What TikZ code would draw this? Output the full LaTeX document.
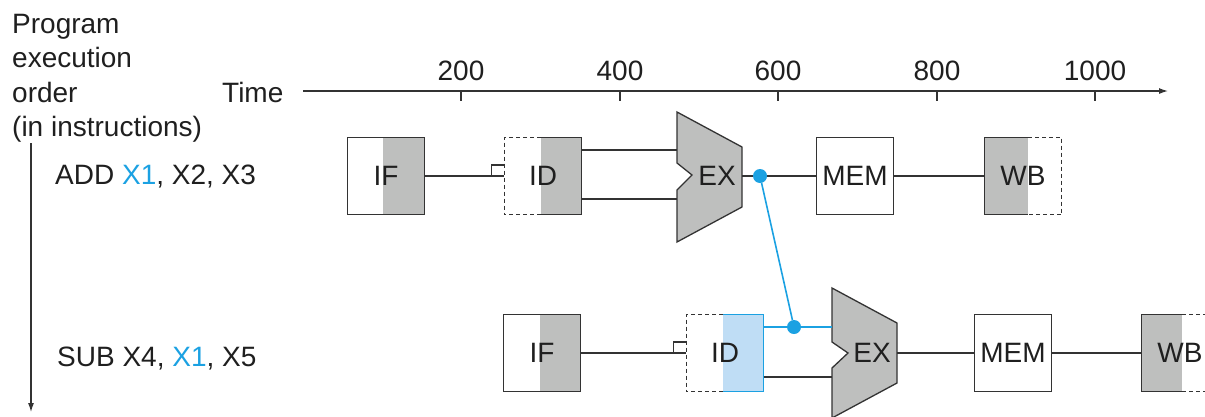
\documentclass[tikz,border=0pt]{standalone}
\usepackage{fontspec}
\setmainfont{Liberation Sans}
\usetikzlibrary{calc,backgrounds,arrows.meta}
\definecolor{hblue}{HTML}{1BA1E2}
\definecolor{lblue}{HTML}{BFDDF5}
\definecolor{sgray}{HTML}{BEBFBE}
\definecolor{ink}{HTML}{333333}
\begin{document}
\begin{tikzpicture}[x=1pt,y=-1pt,
  font=\fontsize{28}{34}\selectfont,
  stage/.style={minimum width=77pt,minimum height=77pt,inner sep=0pt,text=black!88},
  fullstage/.style={stage,draw=ink,line width=1.3pt},
  line/.style={draw=ink,line width=1.2pt},
  border/.style={draw=ink,line width=1.3pt},
  dashborder/.style={draw=ink,line width=1.1pt,dash pattern=on 4pt off 3pt},
  lbl/.style={inner sep=0pt,anchor=base west,text=black!88},
  dot/.style={circle,fill=hblue,inner sep=0pt,minimum size=14pt},
  tip/.style={-{Latex[length=9pt,width=6pt]}}
]
\useasboundingbox (0,0) rectangle (1205,416);
\clip (0,0) rectangle (1205,416);

% left labels
\node[lbl] (t1) at (12,33) {Program};
\node[lbl] (t2) at (12,67) {execution};
\node[lbl] (t3) at (12,102) {order};
\node[lbl] (t4) at (12,136) {(in instructions)};
\node[lbl] (time) at (222,102) {Time};
\node[lbl] (add) at (55,184) {ADD \textcolor{hblue}{X1}, X2, X3};
\node[lbl] (sub) at (57,366) {SUB X4, \textcolor{hblue}{X1}, X5};

% program order arrow
\coordinate (vtop) at (31,143);
\coordinate (vbot) at (31,412);
\draw[line,tip] (vtop) -- (vbot);

% time axis
\coordinate (ax0) at (303,91);
\coordinate (ax1) at (1168,91);
\draw[line,tip] (ax0) -- (ax1);
\foreach \v/\x in {200/461,400/620,600/778,800/937,1000/1095}{
  \coordinate (tk\v) at (\x,91);
  \draw[line] (tk\v) -- ++(0,10);
  \node[anchor=base,inner sep=0pt,text=black!88] (lab\v) at (\x,80) {\v};
}

% ---------- row 1 : ADD ----------
\node[fullstage] (if1) at (386,176) {IF};
\node[stage] (id1) at (543,176) {ID};
\node[fullstage] (mem1) at (855,176) {MEM};
\node[stage] (wb1) at (1023,176) {WB};

\begin{scope}[on background layer]
  \fill[sgray] ($(if1.north)+(-3,0)$) rectangle (if1.south east);
  \fill[sgray] ($(id1.north)+(-2,0)$) rectangle (id1.south east);
  \fill[sgray] (wb1.north west) rectangle ($(wb1.south)+(5,0)$);
  \draw[dashborder] ($(id1.north)+(-2,0)$) -- (id1.north west) -- (id1.south west) -- ($(id1.south)+(-2,0)$);
  \draw[border] ($(id1.north)+(-2,0)$) -- (id1.north east) -- (id1.south east) -- ($(id1.south)+(-2,0)$);
  \draw[border] ($(wb1.north)+(5,0)$) -- (wb1.north west) -- (wb1.south west) -- ($(wb1.south)+(5,0)$);
  \draw[dashborder] ($(wb1.north)+(5,0)$) -- (wb1.north east) -- (wb1.south east) -- ($(wb1.south)+(5,0)$);
\end{scope}

\draw[line] (if1.east) -- (id1.west);
\draw[line] ($(id1.west)+(-13,0)$) -- ++(0,-11) -- ++(13,0);

\coordinate (ex1) at (677,112);
\draw[border,fill=sgray] (ex1) -- ++(65,35) -- ++(0,60) -- ++(-65,35) -- ++(0,-52) -- ++(15,-15) -- ++(-15,-12) -- cycle;
\node[inner sep=0pt,text=black!88] (exl1) at (717,176) {EX};
\coordinate (ex1a) at (677,150);
\coordinate (ex1b) at (677,199);
\coordinate (ex1o) at (742,176);
\draw[line] (id1.east |- ex1a) -- (ex1a);
\draw[line] (id1.east |- ex1b) -- (ex1b);
\draw[line] (ex1o) -- (mem1.west);
\draw[line] (mem1.east) -- (wb1.west);

% ---------- row 2 : SUB ----------
\node[fullstage] (if2) at (542,353) {IF};
\node[stage] (id2) at (725,353) {ID};
\node[fullstage] (mem2) at (1013,353) {MEM};
\node[stage] (wb2) at (1180,353) {WB};

\begin{scope}[on background layer]
  \fill[sgray] ($(if2.north)+(-2,0)$) rectangle (if2.south east);
  \fill[lblue] ($(id2.north)+(-2,0)$) rectangle (id2.south east);
  \fill[sgray] (wb2.north west) rectangle ($(wb2.south)+(2,0)$);
  \draw[dashborder] ($(id2.north)+(-2,0)$) -- (id2.north west) -- (id2.south west) -- ($(id2.south)+(-2,0)$);
  \draw[border,draw=hblue] ($(id2.north)+(-2,0)$) -- (id2.north east) -- (id2.south east) -- ($(id2.south)+(-2,0)$);
  \draw[border] ($(wb2.north)+(2,0)$) -- (wb2.north west) -- (wb2.south west) -- ($(wb2.south)+(2,0)$);
  \draw[dashborder] ($(wb2.north)+(2,0)$) -- (wb2.north east) -- (wb2.south east) -- ($(wb2.south)+(2,0)$);
\end{scope}

\draw[line] (if2.east) -- (id2.west);
\draw[line] ($(id2.west)+(-13,0)$) -- ++(0,-11) -- ++(13,0);

\coordinate (ex2) at (832,288);
\draw[border,fill=sgray] (ex2) -- ++(65,35) -- ++(0,60) -- ++(-65,35) -- ++(0,-50) -- ++(16,-15) -- ++(-16,-11) -- cycle;
\node[inner sep=0pt,text=black!88] (exl2) at (872,353) {EX};
\coordinate (ex2a) at (832,327);
\coordinate (ex2b) at (832,377);
\coordinate (ex2o) at (897,353);
\draw[line,draw=hblue] (id2.east |- ex2a) -- (ex2a);
\draw[line] (id2.east |- ex2b) -- (ex2b);
\draw[line] (ex2o) -- (mem2.west);
\draw[line] (mem2.east) -- (wb2.west);

% forwarding
\node[dot] (d1) at (760,176) {};
\node[dot] (d2) at (794,327) {};
\begin{scope}[on background layer]
  \draw[line,draw=hblue,line width=1.6pt] (d1) -- (d2);
\end{scope}
\end{tikzpicture}
\end{document}
